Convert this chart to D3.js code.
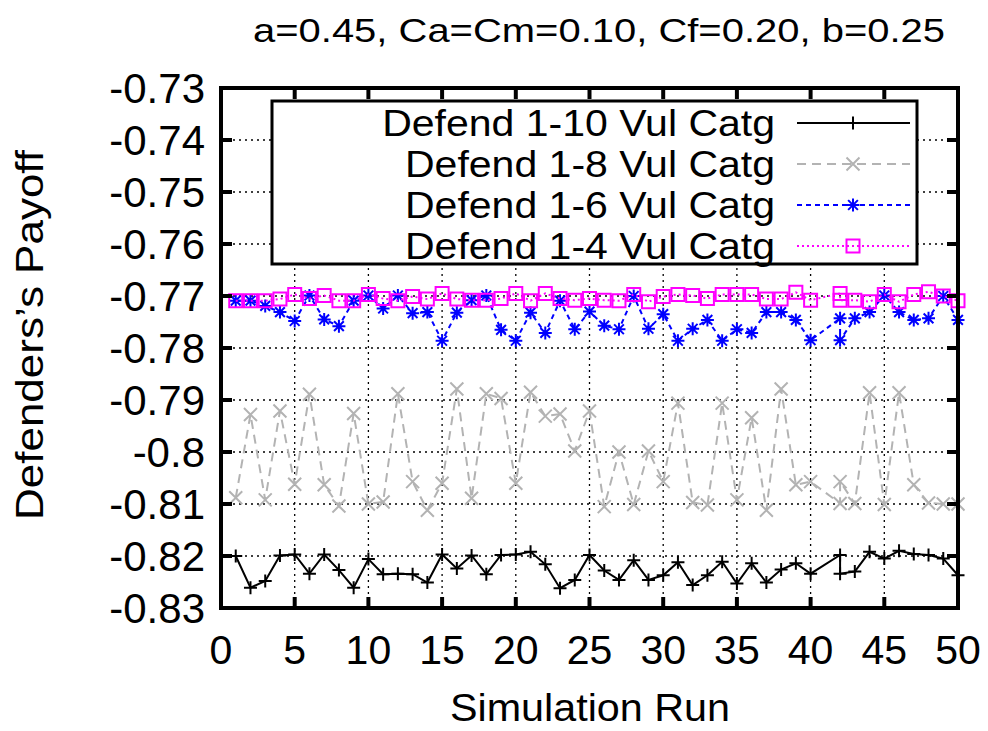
<!DOCTYPE html>
<html>
<head>
<meta charset="utf-8">
<script src="https://cdn.jsdelivr.net/npm/d3@7"></script>
<style>
body { margin: 0; background: white; }
text { font-family: 'Liberation Sans', Arial, sans-serif; fill: black; }
</style>
</head>
<body>
<script>
const width = 988
const height = 731
const left = 221
const right = 958
const top_ = 88
const bottom = 608

const title = 'a=0.45, Ca=Cm=0.10, Cf=0.20, b=0.25'
const x_label = 'Simulation Run'
const y_label = 'Defenders\u2019s Payoff'
const x_ticks = [0, 5, 10, 15, 20, 25, 30, 35, 40, 45, 50]
const y_ticks = [-0.73, -0.74, -0.75, -0.76, -0.77, -0.78, -0.79, -0.8, -0.81, -0.82, -0.83]

// run numbers as plotted (41 is missing, 42 appears twice)
const runs = [1, 2, 3, 4, 5, 6, 7, 8, 9, 10, 11, 12, 13, 14, 15, 16, 17, 18, 19, 20,
    21, 22, 23, 24, 25, 26, 27, 28, 29, 30, 31, 32, 33, 34, 35, 36, 37, 38, 39, 40,
    42, 42, 43, 44, 45, 46, 47, 48, 49, 50]

const defend10 = [-0.8200, -0.8261, -0.8248, -0.8199, -0.8197, -0.8234, -0.8197, -0.8227, -0.8261, -0.8206,
    -0.8235, -0.8234, -0.8235, -0.8251, -0.8197, -0.8224, -0.8199, -0.8235, -0.8198, -0.8197,
    -0.8192, -0.8216, -0.8262, -0.8246, -0.8198, -0.8228, -0.8246, -0.8208, -0.8246, -0.8237,
    -0.8212, -0.8256, -0.8237, -0.8211, -0.8253, -0.8214, -0.8251, -0.8226, -0.8214, -0.8234,
    -0.8198, -0.8234, -0.8230, -0.8192, -0.8205, -0.8190, -0.8196, -0.8198, -0.8205, -0.8237]

const defend8 = [-0.8088, -0.7928, -0.8092, -0.7921, -0.8062, -0.7889, -0.8063, -0.8104, -0.7926, -0.8100,
    -0.8096, -0.7888, -0.8057, -0.8112, -0.8060, -0.7879, -0.8089, -0.7888, -0.7897, -0.8060,
    -0.7885, -0.7931, -0.7927, -0.7998, -0.7921, -0.8105, -0.8000, -0.8101, -0.7998, -0.8057,
    -0.7906, -0.8097, -0.8102, -0.7906, -0.8092, -0.7934, -0.8112, -0.7879, -0.8063, -0.8057,
    -0.8099, -0.8057, -0.8099, -0.7886, -0.8101, -0.7886, -0.8063, -0.8098, -0.8100, -0.8100]

const defend6 = [-0.7709, -0.7709, -0.7719, -0.7731, -0.7748, -0.7699, -0.7745, -0.7758, -0.7709, -0.7699,
    -0.7724, -0.7699, -0.7733, -0.7731, -0.7786, -0.7732, -0.7708, -0.7699, -0.7765, -0.7786,
    -0.7732, -0.7771, -0.7709, -0.7764, -0.7730, -0.7757, -0.7764, -0.7700, -0.7763, -0.7735,
    -0.7786, -0.7763, -0.7746, -0.7786, -0.7764, -0.7771, -0.7731, -0.7731, -0.7746, -0.7785,
    -0.7743, -0.7785, -0.7743, -0.7731, -0.7699, -0.7731, -0.7746, -0.7743, -0.7700, -0.7746]

const defend4 = [-0.7709, -0.7709, -0.7709, -0.7706, -0.7697, -0.7705, -0.7699, -0.7709, -0.7709, -0.7697,
    -0.7705, -0.7709, -0.7701, -0.7706, -0.7695, -0.7706, -0.7708, -0.7708, -0.7705, -0.7695,
    -0.7709, -0.7695, -0.7705, -0.7708, -0.7705, -0.7708, -0.7709, -0.7697, -0.7711, -0.7701,
    -0.7697, -0.7699, -0.7705, -0.7697, -0.7697, -0.7697, -0.7706, -0.7706, -0.7693, -0.7708,
    -0.7695, -0.7708, -0.7708, -0.7711, -0.7697, -0.7711, -0.7697, -0.7692, -0.7700, -0.7709]

const series_names = ['Defend 1-10 Vul Catg', 'Defend 1-8 Vul Catg', 'Defend 1-6 Vul Catg', 'Defend 1-4 Vul Catg']

const series = [
    {name: series_names[0], values: defend10, color: 'black', dash: null, width: 2, marker: 'plus'},
    {name: series_names[1], values: defend8, color: '#b3b3b3', dash: '9,6', width: 2, marker: 'cross'},
    {name: series_names[2], values: defend6, color: '#0000ff', dash: '5,4', width: 2, marker: 'star'},
    {name: series_names[3], values: defend4, color: '#ff00ff', dash: '2,3', width: 2, marker: 'square'}
]

const x = d3.scaleLinear().domain([0, 50]).range([left, right])
const y = d3.scaleLinear().domain([-0.83, -0.73]).range([bottom, top_])

function markerPath(type, s) {
    if (type == 'plus') return `M${-s},0H${s}M0,${-s}V${s}`
    if (type == 'cross') return `M${-s},${-s}L${s},${s}M${-s},${s}L${s},${-s}`
    if (type == 'star') {
        let d = s * .75
        return `M${-s},0H${s}M0,${-s}V${s}M${-d},${-d}L${d},${d}M${-d},${d}L${d},${-d}`
    }
    return `M${-s},${-s}H${s}V${s}H${-s}Z`
}

const svg = d3.select('body')
    .append('svg')
    .attr('width', width)
    .attr('height', height)

// grid
svg.append('g')
    .selectAll('line')
    .data(x_ticks.slice(1, -1))
    .enter()
    .append('line')
    .attr('x1', d => x(d))
    .attr('x2', d => x(d))
    .attr('y1', top_)
    .attr('y2', bottom)
    .attr('stroke', 'black')
    .attr('stroke-width', 1.3)
    .attr('stroke-dasharray', '2,4')

svg.append('g')
    .selectAll('line')
    .data(y_ticks.slice(1, -1))
    .enter()
    .append('line')
    .attr('x1', left)
    .attr('x2', right)
    .attr('y1', d => y(d))
    .attr('y2', d => y(d))
    .attr('stroke', 'black')
    .attr('stroke-width', 1.3)
    .attr('stroke-dasharray', '2,4')

// series
const line = d3.line()
    .x((d, i) => x(runs[i]))
    .y(d => y(d))

const plot = svg.append('g')
series.forEach(s => {
    plot.append('path')
        .attr('d', line(s.values))
        .attr('fill', 'none')
        .attr('stroke', s.color)
        .attr('stroke-width', s.width)
        .attr('stroke-dasharray', s.dash)
    plot.append('g')
        .selectAll('path')
        .data(s.values)
        .enter()
        .append('path')
        .attr('transform', (d, i) => `translate(${x(runs[i])},${y(d)})`)
        .attr('d', markerPath(s.marker, 6.5))
        .attr('fill', 'none')
        .attr('stroke', s.color)
        .attr('stroke-width', 2)
})

// legend
const legend = svg.append('g')
legend.append('rect')
    .attr('x', 272)
    .attr('y', 101)
    .attr('width', 645)
    .attr('height', 163)
    .attr('fill', 'white')
    .attr('stroke', 'black')
    .attr('stroke-width', 3)

series.forEach((s, i) => {
    let ly = 123 + i * 41
    let label = legend.append('text')
        .attr('x', 775)
        .attr('y', ly)
        .attr('dy', '0.35em')
        .attr('text-anchor', 'end')
        .attr('font-size', 37)
        .text(s.name)
    // stretch wider, like the narrow tall face of the original
    let w = label.node().getComputedTextLength()
    label.attr('textLength', w * 41 / 37)
        .attr('lengthAdjust', 'spacingAndGlyphs')
    legend.append('line')
        .attr('x1', 797)
        .attr('x2', 910)
        .attr('y1', ly)
        .attr('y2', ly)
        .attr('stroke', s.color)
        .attr('stroke-width', s.width)
        .attr('stroke-dasharray', s.dash)
    legend.append('path')
        .attr('transform', `translate(853,${ly})`)
        .attr('d', markerPath(s.marker, 6.5))
        .attr('fill', 'none')
        .attr('stroke', s.color)
        .attr('stroke-width', 2)
})

// frame and ticks
svg.append('rect')
    .attr('x', left)
    .attr('y', top_)
    .attr('width', right - left)
    .attr('height', bottom - top_)
    .attr('fill', 'none')
    .attr('stroke', 'black')
    .attr('stroke-width', 4)

const ticks = svg.append('g')
x_ticks.forEach(t => {
    ticks.append('line')
        .attr('x1', x(t)).attr('x2', x(t))
        .attr('y1', bottom).attr('y2', bottom - 11)
        .attr('stroke', 'black').attr('stroke-width', 4)
    ticks.append('line')
        .attr('x1', x(t)).attr('x2', x(t))
        .attr('y1', top_).attr('y2', top_ + 11)
        .attr('stroke', 'black').attr('stroke-width', 4)
})
y_ticks.forEach(t => {
    ticks.append('line')
        .attr('x1', left).attr('x2', left + 11)
        .attr('y1', y(t)).attr('y2', y(t))
        .attr('stroke', 'black').attr('stroke-width', 4)
    ticks.append('line')
        .attr('x1', right).attr('x2', right - 11)
        .attr('y1', y(t)).attr('y2', y(t))
        .attr('stroke', 'black').attr('stroke-width', 4)
})

svg.append('g')
    .selectAll('text')
    .data(x_ticks)
    .enter()
    .append('text')
    .attr('x', d => x(d))
    .attr('y', 650)
    .attr('dy', '0.35em')
    .attr('text-anchor', 'middle')
    .attr('font-size', 41)
    .text(d => d)

svg.append('g')
    .selectAll('text')
    .data(y_ticks)
    .enter()
    .append('text')
    .attr('x', 205)
    .attr('y', d => y(d))
    .attr('dy', '0.35em')
    .attr('text-anchor', 'end')
    .attr('font-size', 42)
    .text(d => String(+d.toFixed(2)))

// titles
svg.append('text')
    .attr('x', 599)
    .attr('y', 30)
    .attr('dy', '0.35em')
    .attr('text-anchor', 'middle')
    .attr('font-size', 34)
    .attr('textLength', 692)
    .attr('lengthAdjust', 'spacingAndGlyphs')
    .text(title)

svg.append('text')
    .attr('x', 590)
    .attr('y', 708)
    .attr('dy', '0.35em')
    .attr('text-anchor', 'middle')
    .attr('font-size', 38)
    .attr('textLength', 280)
    .attr('lengthAdjust', 'spacingAndGlyphs')
    .text(x_label)

svg.append('text')
    .attr('transform', 'translate(30,335) rotate(-90)')
    .attr('dy', '0.35em')
    .attr('text-anchor', 'middle')
    .attr('font-size', 38)
    .attr('textLength', 370)
    .attr('lengthAdjust', 'spacingAndGlyphs')
    .text(y_label)
</script>
</body>
</html>
